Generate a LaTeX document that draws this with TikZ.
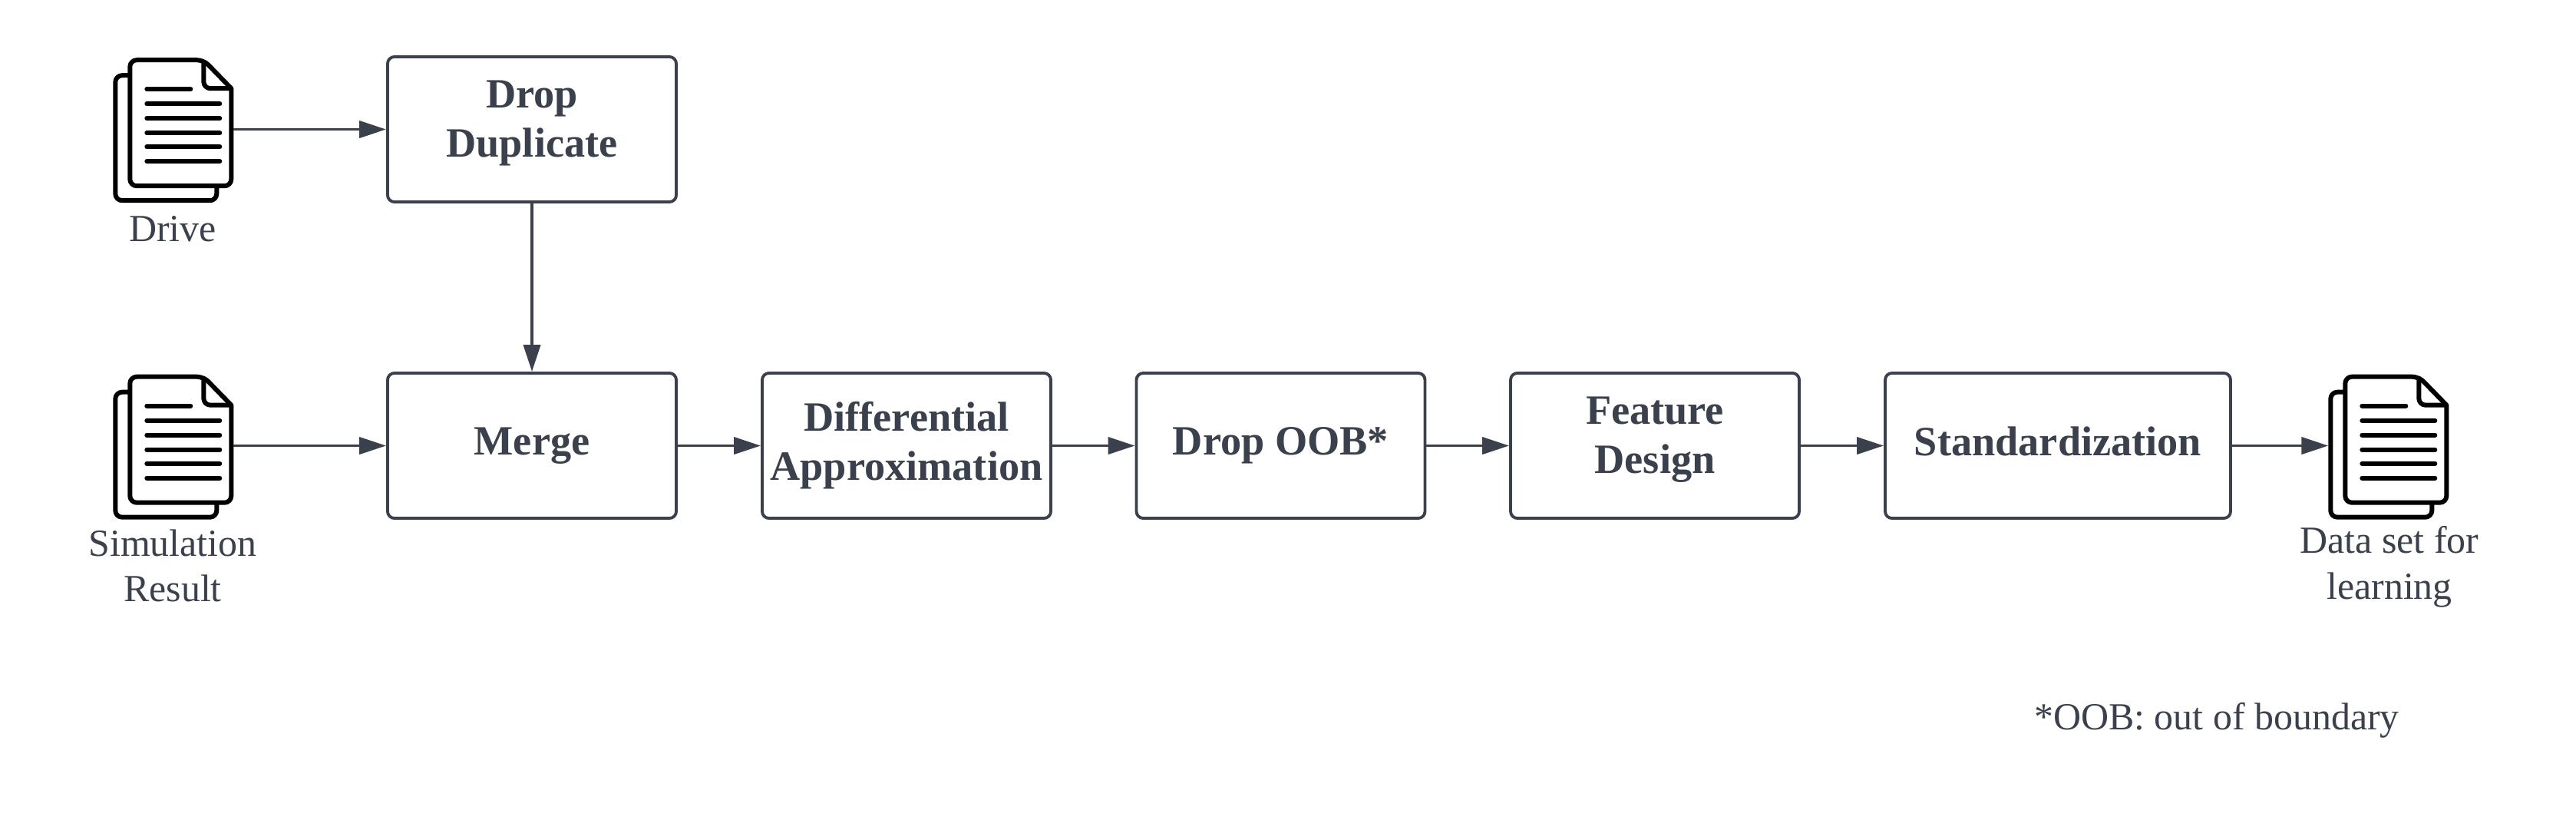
\documentclass[tikz,border=0pt]{standalone}
\usepackage{fontspec}
\setmainfont{Liberation Serif}
\usetikzlibrary{arrows.meta}
\definecolor{inkgray}{HTML}{3A414C}
\newcommand{\liftrule}[1]{\rule[-#1]{0pt}{#1}}
\tikzset{
  procbox/.style={rectangle, draw=inkgray, line width=1.1pt, rounded corners=2.5pt,
      text=inkgray, align=center, font=\fontsize{15.45}{18.2}\selectfont\bfseries,
      minimum height=1.89cm, inner sep=0pt},
  doclabel/.style={text=inkgray, align=center, inner sep=0pt,
      font=\fontsize{14.2}{17}\selectfont},
  docicon/.style={rectangle, minimum width=1.55cm, minimum height=1.89cm, inner sep=0pt},
  flow/.style={-{Triangle[length=0.35cm,width=0.22cm]}, inkgray, line width=1.1pt},
}
% stacked pages, origin at the lower left of the back page
\newcommand{\docsymbol}[1]{
  \begin{scope}[shift={(#1.south west)}, line width=1.7pt, line join=round, black]
    \draw[rounded corners=2.5pt, fill=white] (0.03,0.8) -- (0.03,1.66) -- (1.35,1.66)
        -- (1.35,0.03) -- (0.03,0.03) -- cycle;
    \draw[fill=white] (0.22,1.0) [rounded corners=2.5pt] -- (0.22,1.86) -- (1.18,1.86)
        [sharp corners] -- (1.54,1.49) [rounded corners=2.5pt] -- (1.54,0.22)
        -- (0.22,0.22) -- cycle;
    \draw[rounded corners=2.5pt] (1.18,1.86) -- (1.18,1.49) -- (1.54,1.49);
    \draw[line cap=round] (0.44,1.48) -- (1.01,1.48);
    \foreach \row in {1.29,1.10,0.91,0.73,0.54}
      \draw[line cap=round] (0.44,\row) -- (1.39,\row);
  \end{scope}
}

\begin{document}
\begin{tikzpicture}

\useasboundingbox (0,0) rectangle (33.56,10.84);

\node[docicon] (drive) at (2.255, 9.15) {};
\node[docicon] (sim) at (2.255, 5.025) {};
\node[docicon] (dataset) at (31.115, 5.025) {};
\docsymbol{drive}
\docsymbol{sim}
\docsymbol{dataset}

\node[doclabel] (drivetext) at (2.25, 7.86) {Drive};
\node[doclabel] (simtext) at (2.25, 3.47) {Simulation\\Result};
\node[doclabel] (datatext) at (31.13, 3.46) {Data set for\\learning};
\node[doclabel] (oobnote) at (28.88, 1.46) {*OOB: out of boundary};

\node[procbox, minimum width=3.76cm] (dup) at (6.93, 9.155) {Drop\\Duplicate\liftrule{8pt}};
\node[procbox, minimum width=3.76cm] (merge) at (6.93, 5.035) {Merge};
\node[procbox, minimum width=3.76cm] (diff) at (11.81, 5.035) {Differential\\Approximation\liftrule{3pt}};
\node[procbox, minimum width=3.76cm] (oob) at (16.685, 5.035) {Drop OOB*};
\node[procbox, minimum width=3.76cm] (feat) at (21.56, 5.035) {Feature\\Design\liftrule{8pt}};
\node[procbox, minimum width=4.50cm] (std) at (26.81, 5.035) {Standardization\liftrule{3.6pt}};

\draw[flow] (drive.east |- dup.west) -- (dup.west);
\draw[flow] (dup) -- (merge);
\draw[flow] (sim.east |- merge.west) -- (merge.west);
\draw[flow] (merge) -- (diff);
\draw[flow] (diff) -- (oob);
\draw[flow] (oob) -- (feat);
\draw[flow] (feat) -- (std);
\draw[flow] (std.east) -- (dataset.west |- std.east);

\end{tikzpicture}
\end{document}
